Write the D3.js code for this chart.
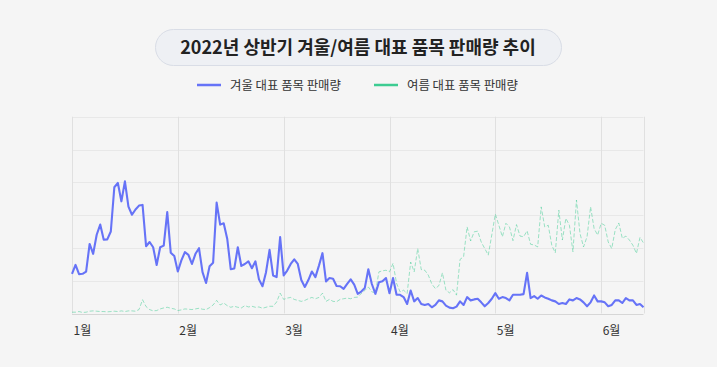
<!DOCTYPE html>
<html><head><meta charset="utf-8">
<script src="https://cdn.jsdelivr.net/npm/d3@7"></script>
<style>
html,body{margin:0;padding:0;background:#f5f5f5;}
svg{display:block;font-family:"Noto Sans CJK KR","Noto Sans",sans-serif;}
</style></head><body>
<svg id="c" width="717" height="367"></svg>
<script>
const title = "2022년 상반기 겨울/여름 대표 품목 판매량 추이";
const seriesNames = ["겨울 대표 품목 판매량", "여름 대표 품목 판매량"];
const monthLabels = ["1월","2월","3월","4월","5월","6월"];
const monthTickIndex = [0,30,60,90,120,150];
const winterSales = [12.1,14.8,12.0,12.1,12.8,21.2,18.2,24.0,27.1,22.5,22.6,25.0,38.5,39.8,34.2,40.3,32.6,30.1,31.7,32.9,
33.1,20.5,21.8,20.2,14.8,20.2,20.7,30.9,18.5,17.5,12.8,16.2,18.7,17.9,15.1,18.2,19.9,12.6,9.3,14.4,
15.5,33.8,27.1,27.5,22.8,13.5,13.7,20.2,14.5,15.1,15.9,13.8,15.9,10.4,8.3,12.6,19.4,11.6,11.1,23.3,
11.6,13.1,15.1,16.5,15.1,10.2,8.1,10.2,12.8,11.1,14.6,18.4,9.8,10.8,10.6,8.4,8.3,7.5,9.0,10.4,
8.8,6.0,6.7,7.8,13.5,9.0,6.0,9.5,9.8,10.8,6.2,10.8,5.7,5.7,5.0,2.9,7.0,3.7,4.7,2.9,
2.6,2.9,1.9,2.6,4.0,3.7,2.4,1.8,1.6,2.1,3.7,2.6,5.0,4.0,4.3,4.5,3.4,2.2,3.2,4.5,
6.2,4.5,5.0,4.7,4.0,5.7,5.7,5.7,5.9,12.4,4.7,5.3,4.5,5.5,4.9,4.5,4.0,3.7,2.9,3.2,
2.9,4.3,4.0,4.7,4.3,3.4,2.2,3.4,5.5,3.7,3.7,3.4,2.2,2.6,4.0,4.0,3.2,4.7,4.0,4.0,
2.6,2.9,1.9];
const summerSales = [0.4,0.4,0.6,0.3,0.4,0.7,0.8,0.7,0.6,0.6,0.5,0.6,0.7,0.6,0.8,0.6,0.8,0.8,0.7,1.2,
4.2,2.1,1.2,0.8,0.9,1.4,1.7,1.9,1.6,1.4,0.9,1.1,1.4,1.3,1.2,1.4,1.6,1.3,1.2,1.8,
2.6,4.0,2.6,3.2,2.4,1.9,2.2,1.9,1.7,2.4,2.0,2.2,1.9,2.0,1.6,1.9,2.2,2.2,3.5,6.2,
4.3,4.7,4.9,4.3,4.0,3.7,4.0,4.5,4.9,4.5,4.9,6.2,3.7,4.3,3.7,3.6,4.3,4.5,4.7,4.5,
4.9,5.0,6.1,7.0,8.1,6.6,6.3,12.7,13.0,13.2,12.7,15.3,9.2,6.6,7.1,6.1,15.7,12.7,19.8,13.4,
13.2,11.7,9.0,7.6,8.5,12.4,7.1,6.3,7.3,5.6,16.5,17.3,26.4,22.1,24.9,25.1,21.8,19.8,17.8,24.0,
30.3,26.9,23.4,27.5,26.4,22.2,27.1,23.6,23.4,25.2,21.1,20.9,20.3,32.5,26.4,26.9,20.8,18.5,31.5,22.4,
29.0,26.9,18.8,34.6,24.4,20.3,23.4,32.5,25.9,23.9,27.5,26.9,21.8,19.8,25.6,27.6,22.9,23.6,22.4,20.8,
18.3,23.2,21.5];
const colors = ["#6673f7", "#3dcc92"];

const svg = d3.select("#c");
const pLeft = 72, pRight = 643.5, pTop = 116.7, pBottom = 313.5;
const x = d3.scaleLinear().domain([0, winterSales.length - 1]).range([pLeft, pRight]);
const y = d3.scaleLinear().domain([0, 60]).range([pBottom, pTop]);

// title pill
const tg = svg.append("g");
tg.append("rect").attr("x", 155.5).attr("y", 29.5).attr("width", 406).attr("height", 36)
  .attr("rx", 18).attr("fill", "#eef0f4").attr("stroke", "#d9dde6");
tg.append("text").attr("x", 358).attr("y", 54).attr("text-anchor", "middle")
  .attr("font-size", 18).attr("font-weight", 700).attr("fill", "#222").text(title);

// legend
const legendX = [197, 374];
seriesNames.forEach((n, i) => {
  const g = svg.append("g").attr("transform", `translate(${legendX[i]},85)`);
  g.append("line").attr("x1", 0).attr("x2", 24).attr("y1", 0).attr("y2", 0)
    .attr("stroke", colors[i]).attr("stroke-width", 2.5);
  g.append("text").attr("x", 33).attr("y", 4.5).attr("font-size", 12.4)
    .attr("fill", "#333").text(n);
});

// horizontal grid
const yTicks = d3.range(0, 61, 10);
svg.append("g").selectAll("line").data(yTicks).join("line")
  .attr("x1", pLeft).attr("x2", pRight)
  .attr("y1", d => Math.round(y(d)) + 0.5).attr("y2", d => Math.round(y(d)) + 0.5)
  .attr("stroke", d => d === 0 ? "#d6d6d6" : "#e8e8e8").attr("stroke-width", 1);

// vertical grid (month ticks + right border)
svg.append("g").selectAll("line").data(monthTickIndex.concat([winterSales.length - 1])).join("line")
  .attr("x1", d => Math.round(x(d)) + 0.5).attr("x2", d => Math.round(x(d)) + 0.5)
  .attr("y1", pTop).attr("y2", pBottom)
  .attr("stroke", "#e0e0e0").attr("stroke-width", 1);

// x axis labels
const xAxis = d3.axisBottom(x).tickValues(monthTickIndex)
  .tickFormat((d, i) => monthLabels[i]).tickSize(0).tickPadding(0);
const ax = svg.append("g").attr("transform", `translate(0,${pBottom})`).call(xAxis);
ax.select(".domain").remove();
ax.selectAll("text").attr("text-anchor", "start").attr("dx", 1).attr("dy", 0).attr("y", 21)
  .attr("font-size", 12).attr("fill", "#333")
  .attr("font-family", "\"Noto Sans CJK KR\",\"Noto Sans\",sans-serif");

// lines
const line = d3.line().x((d, i) => x(i)).y(d => y(d)).curve(d3.curveLinear);
svg.append("path").datum(summerSales).attr("d", line).attr("fill", "none")
  .attr("stroke", colors[1]).attr("stroke-opacity", 0.5).attr("stroke-width", 1)
  .attr("stroke-dasharray", "4,2");
svg.append("path").datum(winterSales).attr("d", line).attr("fill", "none")
  .attr("stroke", colors[0]).attr("stroke-width", 2.1).attr("stroke-linejoin", "round");
</script></body></html>
